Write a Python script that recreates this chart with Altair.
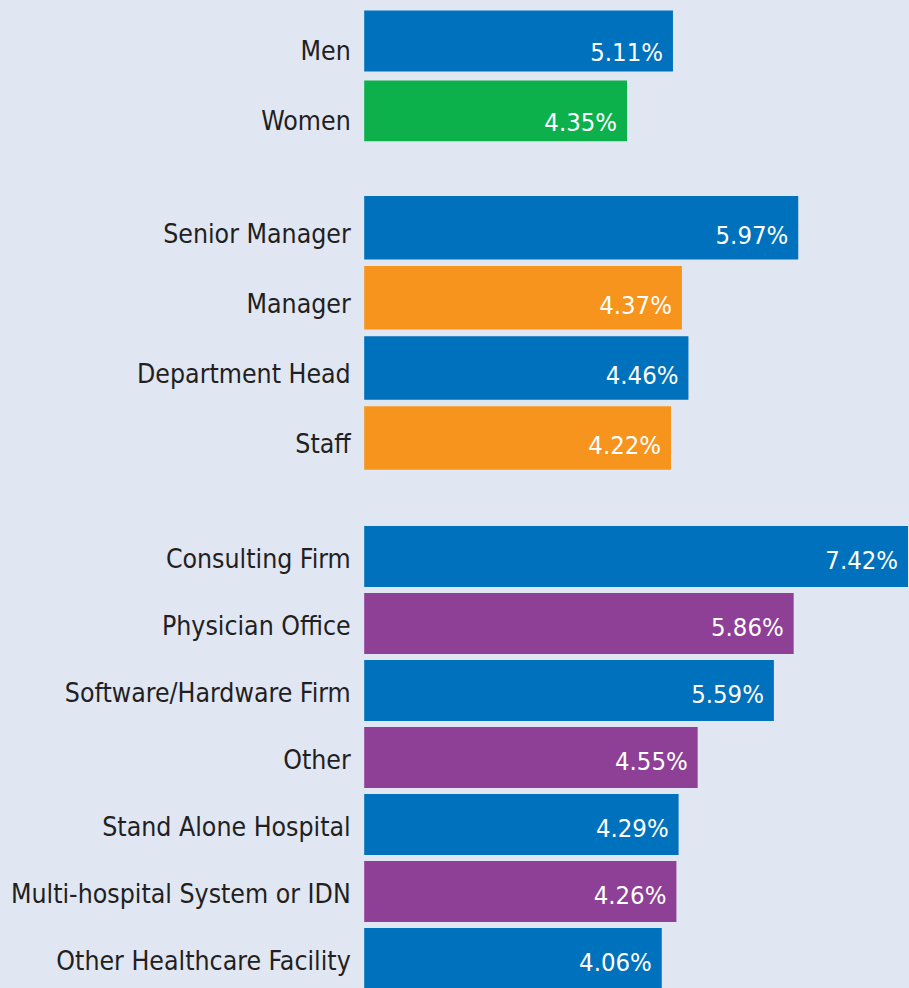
import altair as alt
import pandas as pd

# ---- data ----
gender_cats = ["Men", "Women"]
gender_vals = [5.11, 4.35]
gender_colors = ["#0071bc", "#0db14b"]

role_cats = ["Senior Manager", "Manager", "Department Head", "Staff"]
role_vals = [5.97, 4.37, 4.46, 4.22]
role_colors = ["#0071bc", "#f7941e", "#0071bc", "#f7941e"]

org_cats = ["Consulting Firm", "Physician Office", "Software/Hardware Firm", "Other",
            "Stand Alone Hospital", "Multi-hospital System or IDN", "Other Healthcare Facility"]
org_vals = [7.42, 5.86, 5.59, 4.55, 4.29, 4.26, 4.06]
org_colors = ["#0071bc", "#8e3f96", "#0071bc", "#8e3f96", "#0071bc", "#8e3f96", "#0071bc"]

FONT = "DejaVu Sans Condensed, sans-serif"
TEXT = "#231f20"
BG = "#e1e6f3"
W = 545


def panel(cats, vals, colors, xmax, height, pad_inner, offset, align=0.5):
    df = pd.DataFrame({"cat": cats, "val": vals, "color": colors})
    y = alt.Y(
        "cat:N",
        sort=cats,
        scale=alt.Scale(paddingInner=pad_inner, paddingOuter=pad_inner / 2, align=align),
        axis=alt.Axis(
            title=None, domain=False, ticks=False, grid=False,
            labelFont=FONT, labelFontSize=26.5, labelColor=TEXT,
            labelPadding=14, labelOffset=offset, labelLimit=500,
        ),
    )
    x = alt.X("val:Q", scale=alt.Scale(domain=[0, xmax], nice=False, zero=True), axis=None)
    base = alt.Chart(df).encode(y=y, x=x)
    bars = base.mark_bar(cornerRadius=0).encode(color=alt.Color("color:N", scale=None))
    labels = base.transform_calculate(
        lab="format(datum.val, '.2f') + '%'"
    ).mark_text(
        align="right", baseline="middle", dx=-10, dy=offset + 1,
        font=FONT, fontSize=25.5, color="white",
    ).encode(text="lab:N")
    return alt.layer(bars, labels).properties(width=W, height=height)


p1 = panel(gender_cats, gender_vals, gender_colors, 9.0, 140, 0.13, 11)
p2 = panel(role_cats, role_vals, role_colors, 7.48, 281, 0.094, 7)
p3 = panel(org_cats, org_vals, org_colors, 7.42, 470, 0.09, 4, align=1)

chart = alt.vconcat(p1, p2, p3, spacing=45).properties(
    padding={"left": 9, "top": 4, "right": 0, "bottom": 0},
    background=BG,
).configure_view(stroke="transparent")

chart.save("out.html", embed_options={"renderer": "svg", "actions": False})
